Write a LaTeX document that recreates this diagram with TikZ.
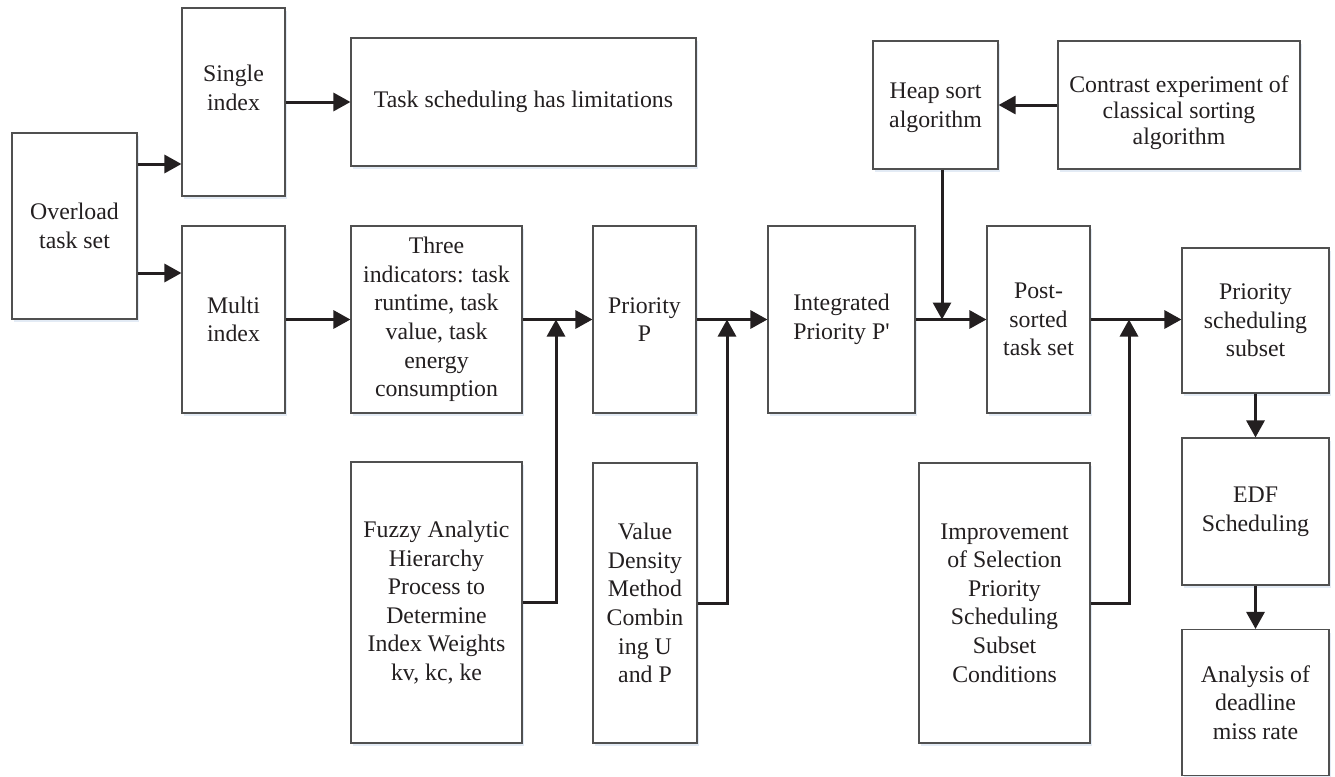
\documentclass[tikz,border=0pt]{standalone}
\usepackage{fontspec}
\setmainfont{Liberation Serif}[Ligatures=TeXOff]
\usetikzlibrary{arrows.meta,shadows}
\definecolor{boxline}{HTML}{505050}
\definecolor{txt}{HTML}{231F20}
\definecolor{shad}{HTML}{DCE6F2}
\tikzset{
  blk/.style={draw=boxline, line width=1.1pt, fill=white, align=center, inner sep=0pt,
    text=txt, font=\fontsize{23.8}{28.6}\selectfont,
    drop shadow={shadow xshift=2pt, shadow yshift=-3pt, fill=shad, opacity=0.8}},
  lbl/.style={align=center, inner sep=0pt, text=txt, font=\fontsize{23.8}{28.6}\selectfont},
  arr/.style={draw=txt, line width=3pt, -{Triangle[length=17pt,width=18pt]}}
}
\begin{document}
\begin{tikzpicture}[x=1pt,y=1pt]
\useasboundingbox (0,0) rectangle (1335,-776);
% nodes
\node[blk, minimum width=125pt, minimum height=186pt] (over) at (74.5,-226) {Overload\\task set};
\node[blk, minimum width=103pt, minimum height=188pt] (single) at (233.5,-102) {Single\\index\\~};
\node[blk, minimum width=345pt, minimum height=128pt] (task) at (523.5,-102) {Task scheduling has limitations};
\node[blk, minimum width=103pt, minimum height=187pt] (multi) at (233.5,-319.5) {Multi\\index};
\node[blk, minimum width=171pt, minimum height=187pt] (three) at (436.5,-319.5) {Three\\indicators: task\\runtime, task\\value, task\\energy\\consumption};
\node[blk, minimum width=103pt, minimum height=187pt] (prio) at (644.5,-319.5) {Priority\\P};
\node[blk, minimum width=147pt, minimum height=187pt] (integ) at (841.5,-319.5) {Integrated\\Priority P'};
\node[blk, minimum width=103pt, minimum height=187pt] (post) at (1038.5,-319.5) {Post-\\sorted\\task set};
\node[blk, minimum width=147pt, minimum height=145pt] (pss) at (1255.5,-320.5) {Priority\\scheduling\\subset};
\node[blk, minimum width=147pt, minimum height=147pt] (edf) at (1255.5,-511.5) {EDF\\Scheduling};
\node[blk, minimum width=147pt, minimum height=146pt] (ana) at (1255.5,-702.5) {Analysis of\\deadline\\miss rate};
\node[blk, minimum width=125pt, minimum height=128pt] (heap) at (935.5,-105) {};
\node[lbl] (heapT) at ([yshift=-3pt]heap.center) {Heap sort\\algorithm};
\node[blk, minimum width=242pt, minimum height=128pt] (contrast) at (1179,-105) {};
\node[lbl, font=\fontsize{23.8}{26}\selectfont] (contrastT) at ([yshift=-8pt]contrast.center) {Contrast experiment of\\classical sorting\\algorithm};
\node[blk, minimum width=171pt, minimum height=281pt] (fuzzy) at (436.5,-602.5) {Fuzzy Analytic\\Hierarchy\\Process to\\Determine\\Index Weights\\kv, kc, ke};
\node[blk, minimum width=104pt, minimum height=280pt] (value) at (645,-603) {Value\\Density\\Method\\Combin\\ing U\\and P};
\node[blk, minimum width=171pt, minimum height=280pt] (impr) at (1004.5,-603) {Improvement\\of Selection\\Priority\\Scheduling\\Subset\\Conditions};
% junction coordinates
\coordinate (j1) at (556,-319.5);
\coordinate (j2) at (727,-319.5);
\coordinate (j3) at (942,-319.5);
\coordinate (j4) at (1129,-319.5);
% connectors
\draw[arr] ([yshift=62pt]over.east) -- ([yshift=62pt]over.east -| single.west);
\draw[arr] ([yshift=-47pt]over.east) -- ([yshift=-47pt]over.east -| multi.west);
\draw[arr] (single.east) -- (task.west);
\draw[arr] (multi.east) -- (three.west);
\draw[arr] (three.east) -- (prio.west);
\draw[arr] (fuzzy.east) -| (j1);
\draw[arr] (prio.east) -- (integ.west);
\draw[arr] (value.east) -| (j2);
\draw[arr] (integ.east) -- (post.west);
\draw[arr] (heap.south -| j3) -- (j3);
\draw[arr] (post.east) -- (post.east -| pss.west);
\draw[arr] (impr.east) -| (j4);
\draw[arr] (contrast.west) -- (heap.east);
\draw[arr] (pss.south) -- (edf.north);
\draw[arr] (edf.south) -- (ana.north);
\end{tikzpicture}
\end{document}
